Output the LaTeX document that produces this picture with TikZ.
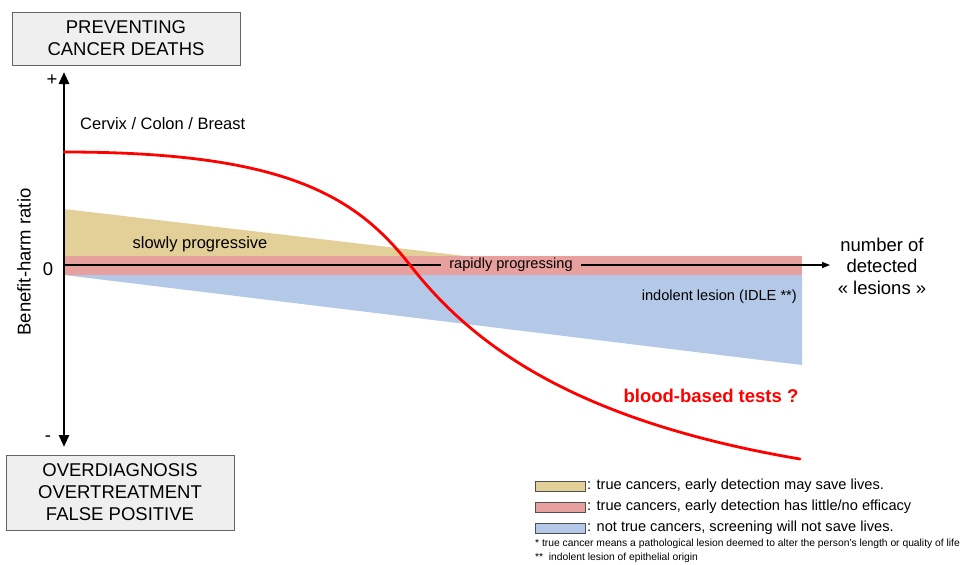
\documentclass[tikz,border=0pt]{standalone}
\usepackage{fontspec}
\setmainfont{Liberation Sans}
\usetikzlibrary{arrows.meta}
\definecolor{tanc}{RGB}{227,208,152}
\definecolor{pinkc}{RGB}{232,160,158}
\definecolor{bluec}{RGB}{180,200,232}
\definecolor{boxfill}{RGB}{239,239,239}
\definecolor{boxline}{RGB}{100,100,100}
\newcommand{\fs}[2]{\fontsize{#1}{#2}\selectfont}
\tikzset{
  titlebox/.style={draw=boxline, fill=boxfill, line width=1pt, minimum width=228pt, align=center, inner sep=0pt, font=\fs{18.5}{22}},
  bigtext/.style={font=\fs{18.5}{22}, inner sep=0pt},
  midtext/.style={font=\fs{16.5}{20}, inner sep=0pt},
  smalltext/.style={font=\fs{14.6}{17}, inner sep=0pt},
  notetext/.style={font=\fs{10.3}{12}, inner sep=0pt, anchor=west},
  legbox/.style={draw=boxline!80!black, line width=0.9pt, minimum width=50pt, minimum height=10pt, inner sep=0pt},
  redcurve/.style={red, line width=2.8pt},
}
\begin{document}
\begin{tikzpicture}[x=1pt,y=-1pt]
\useasboundingbox (0,0) rectangle (962,565);
% boxes
\node[titlebox, minimum height=53pt] (top) at (126,38.5) {PREVENTING\\CANCER DEATHS};
\node[titlebox, minimum height=75pt] (bot) at (120,492.5) {OVERDIAGNOSIS\\OVERTREATMENT\\FALSE POSITIVE};
% bands
\fill[tanc] (64,209) -- (465,256) -- (64,256) -- cycle;
\fill[bluec] (64,275) -- (802,275) -- (802,365) -- cycle;
\fill[pinkc] (64,256) rectangle (802,275);
% axes
\coordinate (origin) at (64,265);
\coordinate (ytop) at (64,72);
\coordinate (ybot) at (64,447);
\coordinate (xend) at (830,265);
\draw[line width=1.2pt, -{Triangle[width=6pt,length=8pt]}] (origin) -- (xend);
\draw[line width=2.6pt, -{Triangle[width=10pt,length=12pt]}] (origin) -- (ytop);
\draw[line width=2.6pt, -{Triangle[width=10pt,length=12pt]}] (origin) -- (ybot);
\node[smalltext, fill=pinkc, inner xsep=8pt, inner ysep=2pt] (rapid) at (511,265) {rapidly progressing};
% labels
\node[bigtext] (plus) at (52,80) {+};
\node[bigtext] (minus) at (48,439) {-};
\node[bigtext] (zero) at (48,269) {0};
\node[bigtext, rotate=90] (ylab) at (24,262) {Benefit-harm ratio};
\node[midtext, anchor=west] (cervix) at (80,124) {Cervix / Colon / Breast};
\node[midtext] (slow) at (200,244) {slowly progressive};
\node[smalltext, anchor=east] (idle) at (797,297) {indolent lesion (IDLE **)};
\node[bigtext, align=center, font=\fs{18.5}{21.5}] (xlab) at (882,266) {number of\\detected\\\guillemotleft{} lesions \guillemotright};
% red curve
\coordinate (cstart) at (64,152);
\coordinate (cmid) at (410,265);
\coordinate (cend) at (800,459);
\draw[redcurve, line cap=round] (cstart) .. controls (284,152) and (355,195) .. (cmid) .. controls (470,342) and (570,420) .. (cend);
\node[font=\bfseries\fs{18.5}{22}, text=red, inner sep=0pt] (blood) at (711,396) {blood-based tests ?};
% legend
\node[legbox, fill=tanc] (l1) at (560,486) {};
\node[legbox, fill=pinkc] (l2) at (560,507) {};
\node[legbox, fill=bluec] (l3) at (560,528) {};
\node[smalltext, anchor=west] (t1) at (587,486) {: true cancers, early detection may save lives.};
\node[smalltext, anchor=west] (t2) at (587,507) {: true cancers, early detection has little/no efficacy};
\node[smalltext, anchor=west] (t3) at (587,528) {: not true cancers, screening will not save lives.};
\node[notetext] (n1) at (535,544) {* true cancer means a pathological lesion deemed to alter the person’s length or quality of life};
\node[notetext] (n2) at (535,558) {**\ \ indolent lesion of epithelial origin};
\end{tikzpicture}
\end{document}
